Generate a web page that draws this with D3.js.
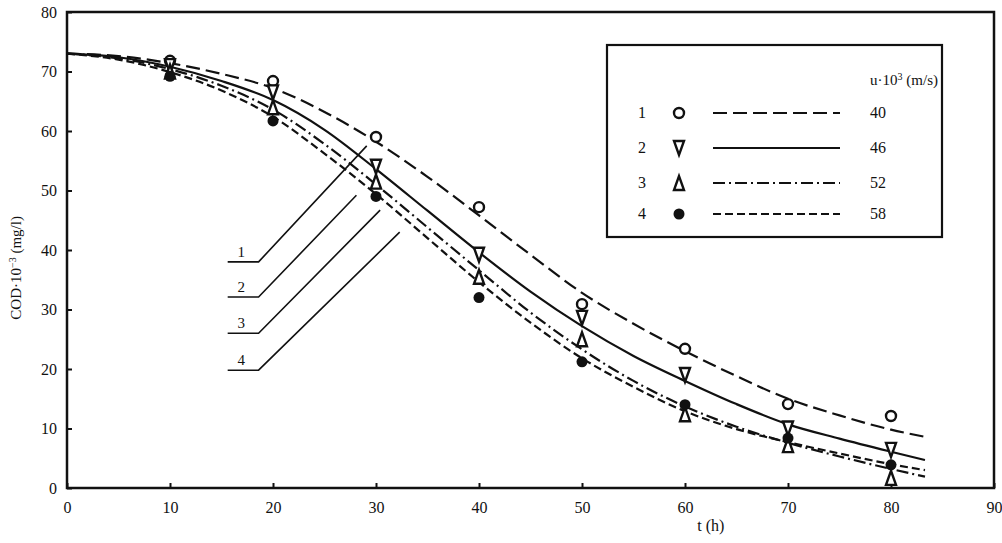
<!DOCTYPE html>
<html>
<head>
<meta charset="utf-8">
<script src="https://cdn.jsdelivr.net/npm/d3@7"></script>
<style>
  body { margin: 0; background: #fff; }
  text { font-family: "Liberation Serif", "DejaVu Serif", serif; fill: #111; }
</style>
</head>
<body>
<div id="chart"></div>
<script>
// time axis of the fitted curves (h)
const curveT = [0, 5, 10, 15, 20, 25, 30, 35, 40, 45, 50, 55, 60, 65, 70, 75, 80, 83.3]
// fitted curves, COD·10^-3 (mg/l)
const curve1 = [73, 72.6, 71.4, 69.6, 67.2, 63.2, 58.2, 52.3, 45.8, 39.2, 32.8, 27.6, 23.0, 18.8, 15.0, 12.2, 9.8, 8.6]
const curve2 = [73, 72.4, 70.8, 68.4, 65.2, 60.2, 53.6, 46.6, 39.6, 33.0, 27.2, 22.2, 18.0, 14.1, 10.7, 8.3, 6.1, 4.7]
const curve3 = [73, 72.2, 70.4, 67.6, 63.6, 57.8, 51.0, 43.8, 36.6, 29.5, 23.3, 18.0, 13.7, 10.3, 7.6, 5.3, 3.2, 1.9]
const curve4 = [73, 72.0, 69.9, 66.8, 62.4, 56.2, 49.4, 42.0, 34.6, 27.8, 21.8, 17.0, 12.9, 9.9, 7.7, 5.8, 4.0, 3.0]

// measured points
const pointT = [10, 20, 30, 40, 50, 60, 70, 80]
const points1 = [71.8, 68.4, 59.0, 47.2, 30.9, 23.4, 14.1, 12.1]
const points2 = [70.9, 66.5, 54.0, 39.2, 28.6, 19.0, 10.0, 6.4]
const points3 = [70.0, 64.0, 51.5, 35.5, 25.0, 12.4, 7.2, 1.7]
const points4 = [69.2, 61.7, 49.0, 32.0, 21.2, 14.0, 8.4, 3.9]

const seriesNames = ['1', '2', '3', '4']
const speeds = ['40', '46', '52', '58']
const xTicks = [0, 10, 20, 30, 40, 50, 60, 70, 80, 90]
const yTicks = [0, 10, 20, 30, 40, 50, 60, 70, 80]

// leader lines for the curve numbers: [t0, t1, cod at horizontal, tEnd, codEnd]
const leaders = [
  [15.6, 18.6, 38.0, 29.1, 57.5],
  [15.6, 18.6, 32.1, 28.1, 49.2],
  [15.6, 18.6, 26.0, 30.4, 46.7],
  [15.6, 18.6, 19.8, 32.3, 43.0]
]

const width = 1002
const height = 543
const svg = d3.select('#chart').append('svg')
  .attr('width', width)
  .attr('height', height)

const x = d3.scaleLinear().domain([0, 90]).range([67, 994])
const y = d3.scaleLinear().domain([0, 80]).range([488, 12])

const dashes = ['14,6', null, '12,4,2,4', '8,4']
const curves = [curve1, curve2, curve3, curve4]
const pointSets = [points1, points2, points3, points4]

// axes, ticks pointing inward
const xAxis = svg.append('g')
  .attr('transform', `translate(0,${y(0)})`)
  .call(d3.axisBottom(x).tickValues(xTicks).tickSize(-5).tickPadding(14))
const yAxis = svg.append('g')
  .attr('transform', `translate(${x(0)},0)`)
  .call(d3.axisLeft(y).tickValues(yTicks).tickSize(-5).tickPadding(10))
;[xAxis, yAxis].forEach(g => {
  g.select('.domain').remove()
  g.selectAll('.tick line').attr('stroke', '#111').attr('stroke-width', 2)
  g.selectAll('.tick text').attr('font-size', 16).attr('font-family', 'Liberation Serif')
})

// frame
svg.append('rect')
  .attr('x', x(0)).attr('y', y(80))
  .attr('width', x(90) - x(0)).attr('height', y(0) - y(80))
  .attr('fill', 'none').attr('stroke', '#111').attr('stroke-width', 2.5)

// axis titles
svg.append('text')
  .attr('x', x(62.5)).attr('y', 531)
  .attr('text-anchor', 'middle').attr('font-size', 16)
  .text('t (h)')
const yt = svg.append('text')
  .attr('transform', `translate(21,${y(37)}) rotate(-90)`)
  .attr('text-anchor', 'middle').attr('font-size', 15)
yt.append('tspan').text('COD·10')
yt.append('tspan').attr('dy', -5).attr('font-size', 10).text('−3')
yt.append('tspan').attr('dy', 5).text(' (mg/l)')

// curves
const line = d3.line()
  .x((d, i) => x(curveT[i]))
  .y(d => y(d))
  .curve(d3.curveMonotoneX)

curves.forEach((c, i) => {
  svg.append('path')
    .datum(c)
    .attr('d', line)
    .attr('fill', 'none')
    .attr('stroke', '#111')
    .attr('stroke-width', 2.2)
    .attr('stroke-dasharray', dashes[i])
})

// markers
function drawMarker(g, k) {
  if (k === 0) {
    g.append('circle').attr('r', 5).attr('fill', '#fff').attr('stroke', '#111').attr('stroke-width', 2.4)
  } else if (k === 1) {
    g.append('path').attr('d', 'M-5,-7L5,-7L0,7Z').attr('fill', '#fff').attr('stroke', '#111').attr('stroke-width', 2.4)
  } else if (k === 2) {
    g.append('path').attr('d', 'M-5,7L5,7L0,-7Z').attr('fill', '#fff').attr('stroke', '#111').attr('stroke-width', 2.4)
  } else {
    g.append('circle').attr('r', 5.5).attr('fill', '#111')
  }
}

pointSets.forEach((ps, k) => {
  ps.forEach((v, i) => {
    const g = svg.append('g').attr('transform', `translate(${x(pointT[i])},${y(v)})`)
    drawMarker(g, k)
  })
})

// leader lines with curve numbers
leaders.forEach((l, i) => {
  svg.append('path')
    .attr('d', `M${x(l[0])},${y(l[2])}L${x(l[1])},${y(l[2])}L${x(l[3])},${y(l[4])}`)
    .attr('fill', 'none').attr('stroke', '#111').attr('stroke-width', 1.6)
  svg.append('text')
    .attr('x', (x(l[0]) + x(l[1])) / 2 - 2).attr('y', y(l[2]) - 5)
    .attr('text-anchor', 'middle').attr('font-size', 15)
    .text(seriesNames[i])
})

// legend
const legend = svg.append('g')
legend.append('rect')
  .attr('x', 607).attr('y', 45).attr('width', 335).attr('height', 192)
  .attr('fill', '#fff').attr('stroke', '#111').attr('stroke-width', 2.2)
const head = legend.append('text')
  .attr('x', 938).attr('y', 85).attr('text-anchor', 'end').attr('font-size', 15)
head.append('tspan').text('u·10')
head.append('tspan').attr('dy', -5).attr('font-size', 10).text('3')
head.append('tspan').attr('dy', 5).text(' (m/s)')

const rowY = [113, 148, 183, 214]
seriesNames.forEach((name, i) => {
  legend.append('text')
    .attr('x', 642).attr('y', rowY[i] + 5)
    .attr('text-anchor', 'middle').attr('font-size', 16)
    .text(name)
  drawMarker(legend.append('g').attr('transform', `translate(679,${rowY[i]})`), i)
  legend.append('line')
    .attr('x1', 713).attr('x2', 840)
    .attr('y1', rowY[i]).attr('y2', rowY[i])
    .attr('stroke', '#111').attr('stroke-width', 2)
    .attr('stroke-dasharray', dashes[i])
  legend.append('text')
    .attr('x', 878).attr('y', rowY[i] + 5)
    .attr('text-anchor', 'middle').attr('font-size', 16)
    .text(speeds[i])
})
</script>
</body>
</html>
